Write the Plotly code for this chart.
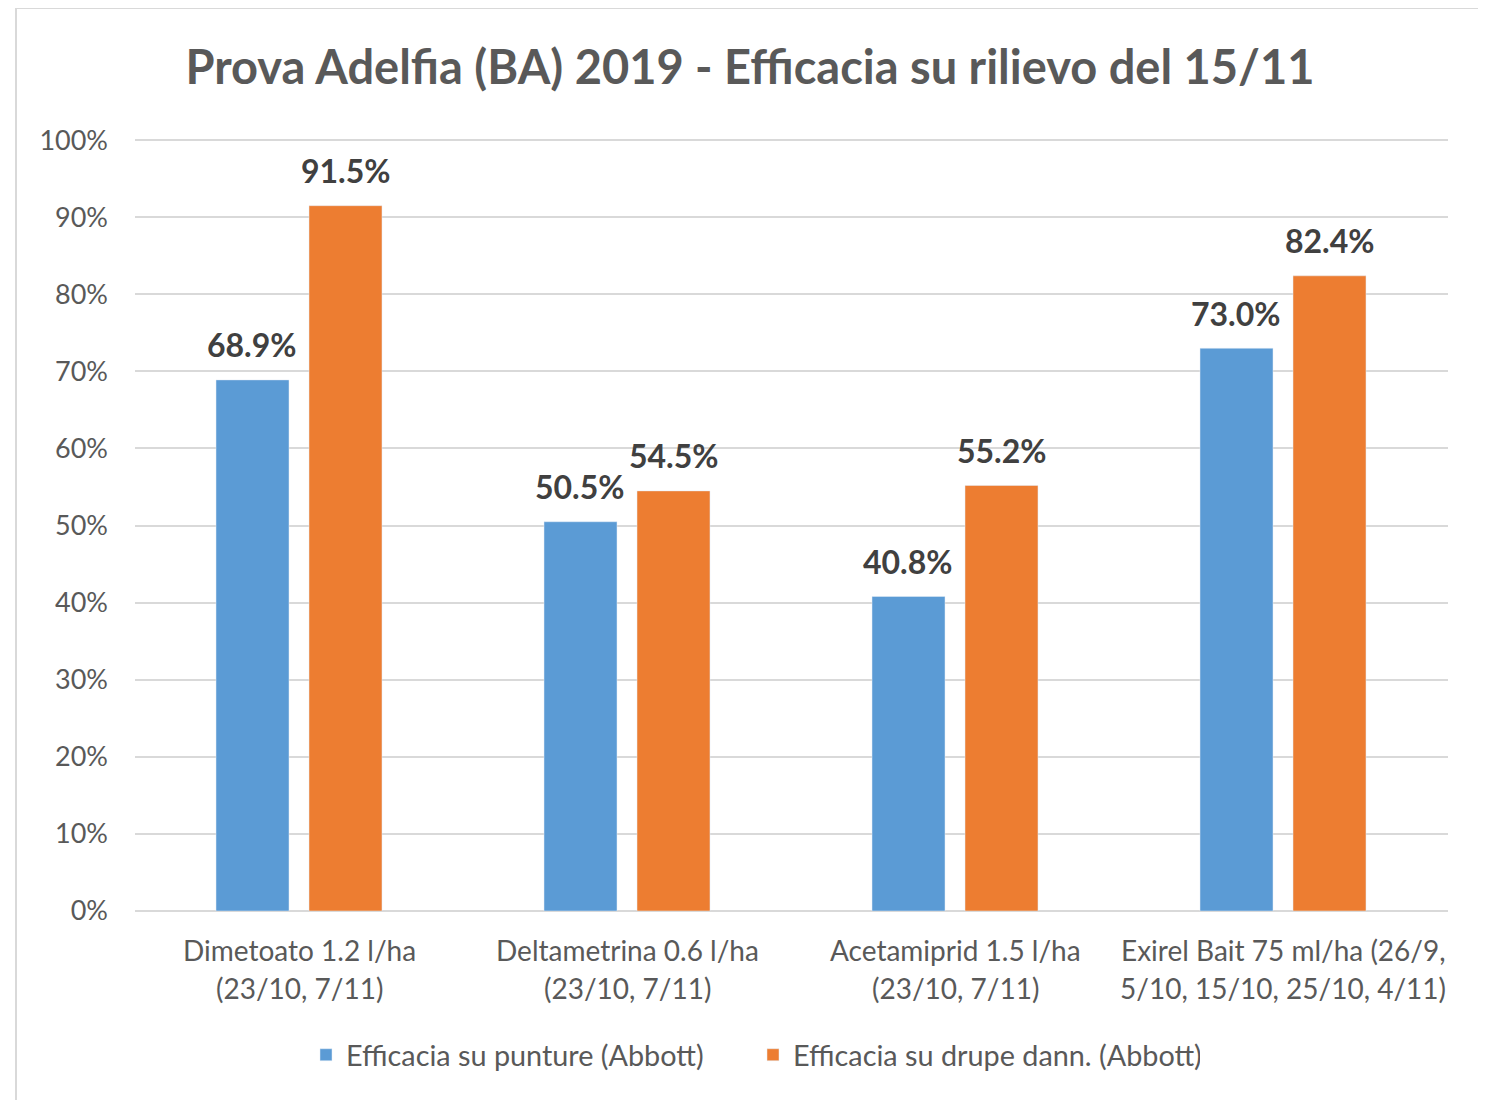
import plotly.graph_objects as go

categories = ["Dimetoato 1.2 l/ha", "Deltametrina 0.6 l/ha", "Acetamiprid 1.5 l/ha", "Exirel Bait 75 ml/ha"]
cat_line1 = ["Dimetoato 1.2 l/ha", "Deltametrina 0.6 l/ha", "Acetamiprid 1.5 l/ha", "Exirel Bait 75 ml/ha (26/9,"]
cat_line2 = ["(23/10, 7/11)", "(23/10, 7/11)", "(23/10, 7/11)", "5/10, 15/10, 25/10, 4/11)"]
series_names = ["Efficacia su punture (Abbott)", "Efficacia su drupe dann. (Abbott)"]
punture = [68.9, 50.5, 40.8, 73.0]
drupe = [91.5, 54.5, 55.2, 82.4]
y_ticks = [0, 10, 20, 30, 40, 50, 60, 70, 80, 90, 100]
y_ticktext = [f"{v}%" for v in y_ticks]

BLUE = "#5B9BD5"
ORANGE = "#ED7D31"
FONT = "Lato"
W, H = 1486, 1100
OFF = 8  # page offset of the figure in the screenshot
PL, PR, PT, PB = 135, 1448, 139, 911  # plot area in screen pixels
L, T = PL - OFF, PT - OFF
R, B = W - (PR - OFF), H - (PB - OFF)
pw, ph = PR - PL, PB - PT

fig = go.Figure()
fig.add_trace(go.Bar(x=categories, y=punture, name=series_names[0], marker_color=BLUE))
fig.add_trace(go.Bar(x=categories, y=drupe, name=series_names[1], marker_color=ORANGE))

ann = []
slot = pw / 4 * (1 - 0.433) / 2
for vals, sh in ((punture, -slot / 2), (drupe, slot / 2)):
    for c, v in zip(categories, vals):
        ann.append(dict(x=c, y=v, xref="x", yref="y", text=f"{v:.1f}%", showarrow=False,
                        xshift=sh, yshift=35, yanchor="middle",
                        font=dict(family=FONT, size=32, color="#404040", weight="bold")))
for c, l1, l2 in zip(categories, cat_line1, cat_line2):
    ann.append(dict(x=c, y=0, xref="x", yref="y", text=l1, showarrow=False, yshift=-39,
                    yanchor="middle", font=dict(family=FONT, size=28, color="#595959")))
    ann.append(dict(x=c, y=0, xref="x", yref="y", text=l2, showarrow=False, yshift=-77,
                    yanchor="middle", font=dict(family=FONT, size=28, color="#595959")))

def px_x(p):
    return (p - PL) / pw

def px_y(p):
    return (PB - p) / ph

fig.update_layout(
    width=W, height=H,
    margin=dict(l=L, r=R, t=T, b=B),
    paper_bgcolor="white", plot_bgcolor="white",
    barmode="group", bargap=0.433, bargroupgap=0.215,
    title=dict(text="Prova Adelfia (BA) 2019 - Efficacia su rilievo del 15/11",
               x=(750 - OFF) / W, xref="container", xanchor="center",
               y=1 - (68 - OFF) / H, yref="container", yanchor="middle",
               font=dict(family=FONT, size=47, color="#595959", weight="bold")),
    legend=dict(orientation="h", x=px_x(753), y=px_y(1055), xanchor="center", yanchor="middle",
                xref="paper", yref="paper",
                font=dict(family=FONT, size=28.8, color="#595959"), itemwidth=30,
                entrywidth=402, entrywidthmode="pixels",
                traceorder="normal"),
    xaxis=dict(showticklabels=False, showline=False, ticks=""),
    yaxis=dict(range=[0, 100.15], tickvals=y_ticks, ticktext=y_ticktext, showgrid=True,
               gridcolor="#D9D9D9", gridwidth=2, zeroline=True, zerolinecolor="#D9D9D9",
               zerolinewidth=2, showline=False, ticks="", ticklabelstandoff=26,
               tickfont=dict(family=FONT, size=27, color="#595959")),
    annotations=ann,
    shapes=[dict(type="rect", xref="paper", yref="paper",
                 x0=px_x(16), x1=px_x(1484), y0=px_y(1115), y1=px_y(8),
                 line=dict(color="#D9D9D9", width=2), fillcolor="rgba(0,0,0,0)", layer="below")],
)

fig.write_html("out.html")
